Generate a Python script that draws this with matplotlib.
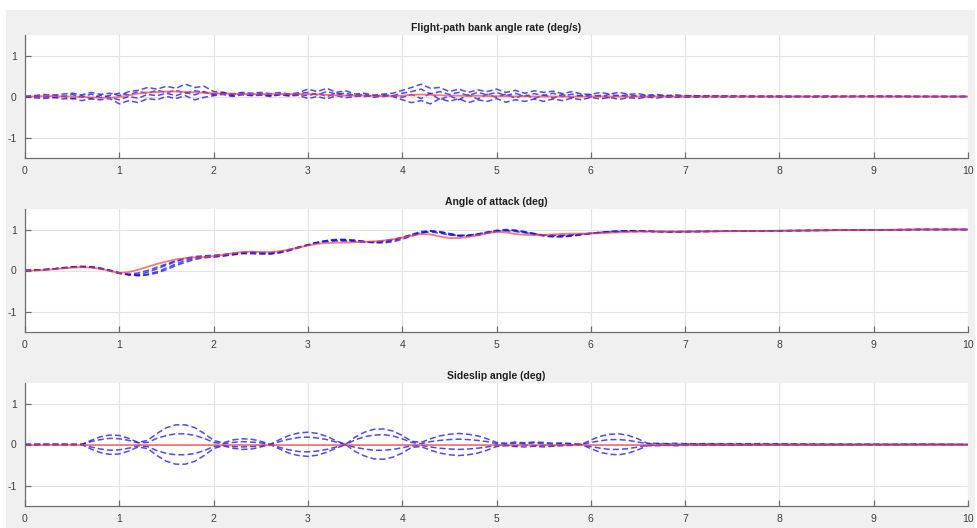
import numpy as np
import matplotlib
matplotlib.use("Agg")
import matplotlib.pyplot as plt
from matplotlib.patches import Rectangle

plt.rcParams["font.family"] = ["Liberation Sans", "DejaVu Sans"]
plt.rcParams["axes.unicode_minus"] = False

# time base: 0.1 s samples up to 7 s, then a coarse tail to 10 s
t_fine = [round(0.1 * i, 1) for i in range(71)]
t_tail = [7.5, 8.0, 8.5, 9.0, 9.5, 10.0]
t = t_fine + t_tail

# ---- flight-path bank angle rate (deg/s) ----
ref_bank = [0, 0, 0.01, 0.01, 0,
            0, -0.01, -0.02, -0.03, -0.03,
            -0.01, 0.03, 0.07, 0.1, 0.11,
            0.12, 0.12, 0.11, 0.1, 0.09,
            0.08, 0.07, 0.07, 0.06, 0.06,
            0.06, 0.06, 0.06, 0.06, 0.06,
            0.06, 0.05, 0.04, 0.03, 0.02,
            0.02, 0.02, 0.01, 0.01, 0.01,
            0.02, 0.04, 0.05, 0.04, 0.03,
            0.02, 0.02, 0.01, 0.02, 0.01,
            0.01, 0.01, 0, 0.01, 0,
            0, 0, 0, 0, 0,
            0, 0, 0, 0, 0,
            0, 0, 0, 0, 0,
            0,
            0, 0, 0, 0, 0, 0]

run_bank = [
    [0, 0.02, 0.05, 0.03, 0.06,
     0.08, 0.04, 0.1, 0.05, 0.08,
     0.02, 0.12, 0.15, 0.22, 0.18,
     0.25, 0.2, 0.3, 0.22, 0.25,
     0.12, 0.1, 0.06, 0.1, 0.08,
     0.1, 0.07, 0.1, 0.06, 0.09,
     0.18, 0.12, 0.2, 0.1, 0.14,
     0.06, 0.08, 0.03, 0.06, 0.08,
     0.15, 0.22, 0.3, 0.2, 0.22,
     0.12, 0.18, 0.1, 0.16, 0.12,
     0.18, 0.1, 0.15, 0.08, 0.14,
     0.1, 0.13, 0.07, 0.12, 0.06,
     0.05, 0.1, 0.06, 0.1, 0.05,
     0.07, 0.03, 0.05, 0.02, 0.04,
     0.02,
     0.01, 0.01, 0, 0.01, 0, 0],
    [0, -0.03, -0.05, -0.02, -0.06,
     -0.04, -0.1, -0.06, -0.08, -0.05,
     -0.18, -0.1, -0.15, -0.05, -0.08,
     0.0, -0.05, 0.02, -0.08, -0.02,
     0.02, 0.05, 0.0, 0.04, 0.02,
     0.03, 0.0, 0.04, 0.01, 0.03,
     -0.05, 0.0, -0.06, 0.02, -0.03,
     0.0, 0.03, -0.02, 0.02, 0.0,
     -0.08, -0.15, -0.1, -0.18, -0.05,
     -0.12, -0.05, -0.15, -0.08, -0.12,
     -0.05, -0.14, -0.08, -0.12, -0.06,
     -0.12, -0.06, -0.1, -0.04, -0.08,
     -0.02, -0.06, -0.02, -0.07, -0.03,
     -0.05, -0.01, -0.04, 0.0, -0.02,
     -0.01,
     -0.01, 0, -0.01, 0, 0, 0],
    [0, 0.01, -0.02, 0.03, 0.0,
     0.05, -0.02, 0.06, -0.03, 0.03,
     0.08, 0.04, 0.12, 0.08, 0.15,
     0.1, 0.15, 0.08, 0.14, 0.1,
     0.06, 0.1, 0.04, 0.08, 0.05,
     0.07, 0.03, 0.06, 0.04, 0.07,
     0.1, 0.04, 0.12, 0.06, 0.08,
     0.03, 0.05, 0.0, 0.04, 0.02,
     0.08, 0.12, 0.18, 0.06, 0.12,
     0.05, 0.1, 0.02, 0.1, 0.04,
     0.1, 0.02, 0.08, 0.0, 0.07,
     0.02, 0.08, 0.0, 0.06, 0.01,
     0.04, 0.0, 0.05, 0.01, 0.04,
     0.0, 0.03, 0.01, 0.03, 0.0,
     0.02,
     0.01, 0, 0.01, 0, 0, 0],
    [0, -0.01, 0.02, -0.03, 0.01,
     -0.06, 0.02, -0.05, 0.03, -0.02,
     -0.08, 0.0, -0.04, 0.05, 0.02,
     0.08, 0.02, 0.1, 0.04, 0.12,
     0.04, 0.08, 0.02, 0.06, 0.03,
     0.05, 0.02, 0.05, 0.03, 0.05,
     0.02, 0.08, 0.0, 0.07, 0.03,
     0.02, 0.0, 0.03, 0.0, 0.02,
     -0.02, 0.05, -0.05, 0.08, -0.08,
     0.02, -0.08, 0.04, -0.06, 0.05,
     -0.02, 0.06, -0.04, 0.05, -0.05,
     0.04, -0.04, 0.05, -0.03, 0.03,
     -0.01, 0.03, -0.03, 0.04, -0.02,
     0.02, -0.02, 0.02, -0.02, 0.01,
     -0.01,
     0, -0.01, 0, 0, 0, 0],
]

# ---- angle of attack (deg) ----
ref_alpha = [0.0, 0.0, 0.01, 0.03, 0.05, 0.07, 0.08, 0.07, 0.04, -0.01,
             -0.06, -0.04, 0.02, 0.09, 0.16, 0.22, 0.27, 0.3, 0.32, 0.33,
             0.35, 0.38, 0.42, 0.45, 0.46, 0.45, 0.45, 0.47, 0.51, 0.56,
             0.61, 0.65, 0.67, 0.68, 0.68, 0.69, 0.7, 0.71, 0.73, 0.76,
             0.8, 0.85, 0.89, 0.88, 0.83, 0.79, 0.79, 0.82, 0.86, 0.91,
             0.94, 0.93, 0.89, 0.87, 0.86, 0.87, 0.88, 0.89, 0.9, 0.9,
             0.9, 0.91, 0.92, 0.93, 0.94, 0.95, 0.95, 0.95, 0.95, 0.95, 0.95,
             0.96, 0.97, 0.98, 0.99, 1.0, 1.0]

run_alpha = [
    [0.0, 0.01, 0.02, 0.04, 0.07, 0.09, 0.1, 0.09, 0.05, 0.0,
     -0.07, -0.11, -0.1, -0.04, 0.04, 0.13, 0.22, 0.28, 0.32, 0.33,
     0.33, 0.35, 0.38, 0.41, 0.41, 0.4, 0.4, 0.44, 0.5, 0.57,
     0.63, 0.69, 0.73, 0.75, 0.75, 0.73, 0.71, 0.69, 0.69, 0.73,
     0.8, 0.88, 0.95, 0.97, 0.93, 0.87, 0.84, 0.85, 0.89, 0.94,
     0.98, 1.0, 0.98, 0.93, 0.88, 0.84, 0.82, 0.82, 0.84, 0.87,
     0.9, 0.93, 0.95, 0.96, 0.97, 0.97, 0.96, 0.95, 0.94, 0.94, 0.95,
     0.96, 0.97, 0.98, 0.99, 1.0, 1.0],
    [0.0, 0.01, 0.02, 0.04, 0.06, 0.08, 0.09, 0.08, 0.05, 0.0,
     -0.06, -0.1, -0.12, -0.09, -0.03, 0.06, 0.16, 0.24, 0.3, 0.34,
     0.36, 0.38, 0.4, 0.43, 0.44, 0.43, 0.42, 0.45, 0.5, 0.56,
     0.62, 0.68, 0.72, 0.74, 0.73, 0.71, 0.69, 0.68, 0.7, 0.74,
     0.79, 0.86, 0.93, 0.96, 0.94, 0.9, 0.86, 0.86, 0.88, 0.92,
     0.96, 0.98, 0.97, 0.94, 0.9, 0.86, 0.84, 0.84, 0.86, 0.88,
     0.9, 0.92, 0.94, 0.95, 0.96, 0.96, 0.96, 0.95, 0.95, 0.95, 0.95,
     0.96, 0.97, 0.98, 0.99, 1.0, 1.0],
    [0.0, 0.0, 0.02, 0.04, 0.06, 0.08, 0.09, 0.08, 0.04, -0.01,
     -0.07, -0.09, -0.06, 0.0, 0.08, 0.16, 0.24, 0.3, 0.34, 0.36,
     0.37, 0.39, 0.42, 0.44, 0.45, 0.44, 0.43, 0.46, 0.51, 0.57,
     0.62, 0.67, 0.7, 0.72, 0.72, 0.71, 0.7, 0.7, 0.72, 0.76,
     0.81, 0.87, 0.92, 0.94, 0.91, 0.87, 0.85, 0.86, 0.89, 0.93,
     0.96, 0.97, 0.95, 0.92, 0.89, 0.87, 0.86, 0.86, 0.87, 0.89,
     0.91, 0.93, 0.94, 0.95, 0.95, 0.95, 0.95, 0.95, 0.95, 0.95, 0.95,
     0.96, 0.97, 0.98, 0.99, 1.0, 1.0],
    [0.0, 0.01, 0.02, 0.03, 0.06, 0.08, 0.1, 0.09, 0.06, 0.01,
     -0.05, -0.1, -0.13, -0.11, -0.06, 0.02, 0.12, 0.2, 0.27, 0.31,
     0.33, 0.36, 0.39, 0.42, 0.43, 0.42, 0.41, 0.43, 0.48, 0.55,
     0.62, 0.68, 0.73, 0.76, 0.76, 0.74, 0.71, 0.68, 0.67, 0.7,
     0.76, 0.84, 0.91, 0.96, 0.95, 0.9, 0.85, 0.84, 0.86, 0.91,
     0.95, 0.98, 0.98, 0.95, 0.9, 0.86, 0.83, 0.83, 0.85, 0.88,
     0.91, 0.93, 0.95, 0.97, 0.97, 0.97, 0.96, 0.95, 0.94, 0.94, 0.94,
     0.96, 0.97, 0.98, 0.99, 1.0, 1.0],
]

# ---- sideslip angle (deg) ----
t_ref_beta = [0.0, 10.0]
ref_beta = [0.0, 0.0]

run_beta = [
    [0, 0, 0.01, 0, 0.01, 0, 0.0,
     0.1, 0.19, 0.23, 0.22, 0.15, 0.05,
     0.1, 0.27, 0.41, 0.48, 0.48, 0.41, 0.27, 0.1,
     0.04, 0.11, 0.14, 0.13, 0.08, 0.0,
     0.12, 0.22, 0.28, 0.3, 0.27, 0.2, 0.09, 0.0,
     0.18, 0.3, 0.37, 0.38, 0.33, 0.22, 0.08,
     0.05, 0.14, 0.21, 0.25, 0.27, 0.25, 0.21, 0.14, 0.05,
     0.03, 0.06, 0.04, 0.06, 0.05, 0.03, 0.04, 0.02, 0.0,
     0.11, 0.2, 0.25, 0.26, 0.22, 0.14, 0.03,
     0.03, 0.02, 0.03, 0.02,
     0.02, 0.02, 0.01, 0.01, 0.01, 0.0],
    [0, 0, 0, 0.01, 0, 0, 0.0,
     0.07, 0.12, 0.15, 0.14, 0.1, 0.04,
     0.05, 0.15, 0.22, 0.26, 0.26, 0.22, 0.15, 0.05,
     0.02, 0.05, 0.07, 0.06, 0.04, 0.0,
     0.07, 0.13, 0.17, 0.18, 0.16, 0.12, 0.06, 0.0,
     0.11, 0.19, 0.23, 0.24, 0.21, 0.14, 0.05,
     0.02, 0.07, 0.1, 0.12, 0.13, 0.12, 0.1, 0.07, 0.02,
     0.01, 0.03, 0.02, 0.04, 0.02, 0.01, 0.02, 0.01, 0.0,
     0.05, 0.09, 0.12, 0.12, 0.1, 0.06, 0.02,
     0.01, 0.02, 0.0, 0.01,
     0.01, 0.0, 0.01, 0.0, 0.0, 0.0],
    [0, 0, 0, -0.01, 0, 0, 0.0,
     -0.06, -0.11, -0.14, -0.13, -0.09, -0.03,
     -0.05, -0.15, -0.22, -0.25, -0.25, -0.22, -0.15, -0.05,
     -0.02, -0.05, -0.06, -0.05, -0.03, 0.0,
     -0.07, -0.13, -0.17, -0.18, -0.16, -0.12, -0.06, 0.0,
     -0.07, -0.11, -0.14, -0.14, -0.12, -0.08, -0.03,
     -0.02, -0.06, -0.09, -0.11, -0.12, -0.11, -0.09, -0.06, -0.02,
     -0.02, -0.03, -0.01, -0.03, -0.02, -0.03, -0.01, -0.01, 0.0,
     -0.05, -0.09, -0.12, -0.12, -0.1, -0.06, -0.02,
     -0.02, -0.01, -0.02, 0.0,
     -0.01, 0.0, -0.01, 0.0, 0.0, 0.0],
    [0, 0, -0.01, 0, -0.01, 0, 0.0,
     -0.11, -0.2, -0.24, -0.23, -0.16, -0.06,
     -0.1, -0.27, -0.41, -0.48, -0.48, -0.41, -0.27, -0.1,
     -0.03, -0.09, -0.12, -0.11, -0.06, 0.0,
     -0.11, -0.21, -0.27, -0.29, -0.26, -0.19, -0.09, 0.0,
     -0.17, -0.28, -0.35, -0.36, -0.31, -0.21, -0.07,
     -0.05, -0.14, -0.21, -0.25, -0.27, -0.25, -0.21, -0.14, -0.05,
     -0.03, -0.05, -0.06, -0.04, -0.06, -0.04, -0.03, -0.02, 0.0,
     -0.1, -0.19, -0.24, -0.25, -0.21, -0.13, -0.03,
     -0.03, -0.02, -0.03, -0.02,
     -0.02, -0.01, -0.01, -0.01, 0.0, 0.0],
]

titles = ["Flight-path bank angle rate (deg/s)", "Angle of attack (deg)", "Sideslip angle (deg)"]
x_ticks = list(range(11))
y_ticks = [-1, 0, 1]

W, H = 977, 528
fig = plt.figure(figsize=(W / 100, H / 100), dpi=100, facecolor="white")
# grey figure panel, leaving a thin white margin at the top and sides
fig.patches.append(Rectangle((6 / W, 0), 969 / W, 518 / H, transform=fig.transFigure,
                             facecolor="#f0f0f0", edgecolor="none", zorder=-10))

# axes boxes in pixels: (left, top, right, bottom)
boxes = [(25, 35, 968, 158), (25, 209, 968, 332), (25, 383, 968, 506)]

panels = [
    (t, ref_bank, run_bank),
    (t, ref_alpha, run_alpha),
    (t_ref_beta, ref_beta, run_beta),
]

for (l, top, r, b), title, (t_ref, ref, runs) in zip(boxes, titles, panels):
    ax = fig.add_axes([l / W, 1 - b / H, (r - l) / W, (b - top) / H])
    ax.set_facecolor("white")
    for run in runs:
        ax.plot(t, run, color="#1010ff", lw=1.1, alpha=0.75, ls=(0, (4, 2)))
    ax.plot(t_ref, ref, color="#ff4040", lw=1.3, alpha=0.7)
    ax.set_xlim(0, 10)
    ax.set_ylim(-1.5, 1.5)
    ax.set_xticks(x_ticks)
    ax.set_yticks(y_ticks)
    ax.grid(True, color="#e4e4e4", lw=0.8)
    ax.set_axisbelow(True)
    for s in ["top", "right"]:
        ax.spines[s].set_visible(False)
    for s in ["left", "bottom"]:
        ax.spines[s].set_color("#6e6e6e")
        ax.spines[s].set_linewidth(0.9)
    ax.tick_params(direction="in", length=4, width=0.9, color="#6e6e6e",
                   labelsize=7.5, labelcolor="#404040", pad=6)
    ax.set_title(title, fontsize=7.5, fontweight="bold", color="#202020", pad=3)

fig.savefig("out.png", dpi=100, facecolor=fig.get_facecolor())
